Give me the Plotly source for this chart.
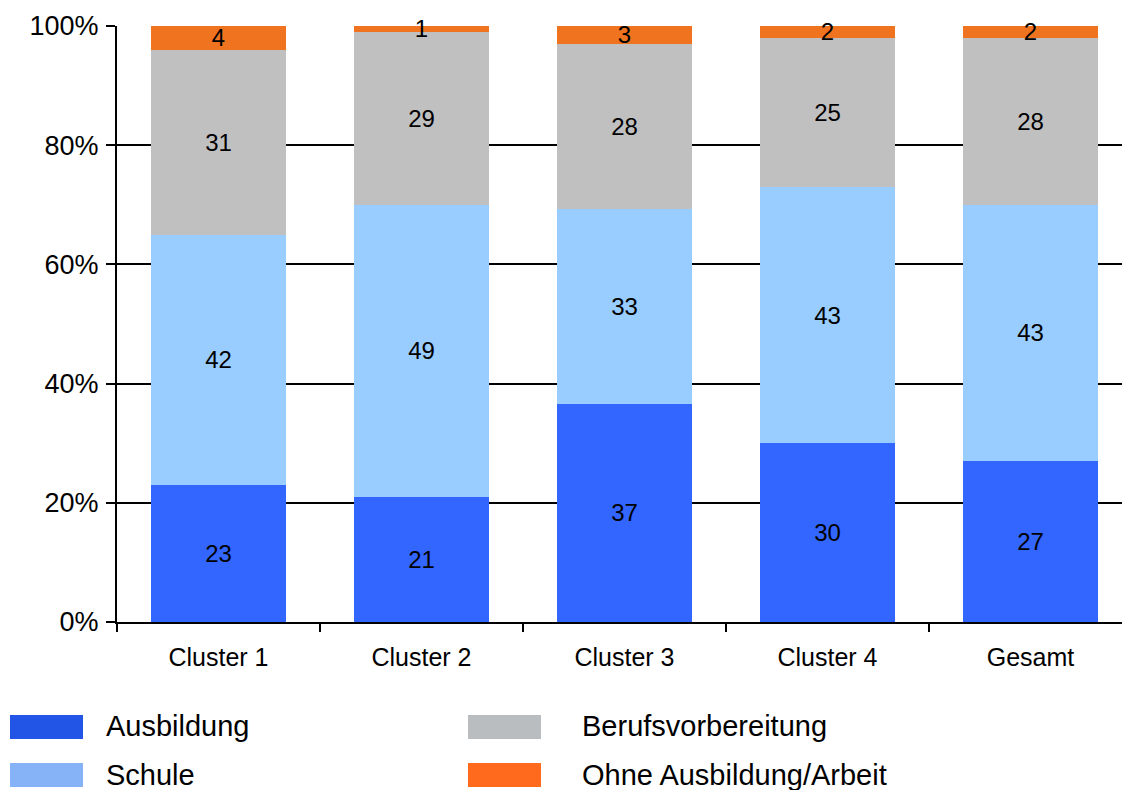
import plotly.graph_objects as go

categories = ["Cluster 1", "Cluster 2", "Cluster 3", "Cluster 4", "Gesamt"]
series_names = ["Ausbildung", "Schule", "Berufsvorbereitung", "Ohne Ausbildung/Arbeit"]
ausbildung = [23, 21, 37, 30, 27]
schule = [42, 49, 33, 43, 43]
berufsvorbereitung = [31, 29, 28, 25, 28]
ohne = [4, 1, 3, 2, 2]
y_ticks = [0, 20, 40, 60, 80, 100]
y_ticklabels = ["0%", "20%", "40%", "60%", "80%", "100%"]

series_values = [ausbildung, schule, berufsvorbereitung, ohne]
bar_colors = ["#3366FF", "#99CCFF", "#C0C0C0", "#F07320"]
legend_colors = ["#2254E6", "#86B2F7", "#B9BDC0", "#FF6A1C"]

FONT = "Liberation Sans, Arial, sans-serif"
W, H = 1132, 790
L, R, T, B = 117, 0, 26, 168

fig = go.Figure()
x_idx = list(range(len(categories)))
for name, vals, col in zip(series_names, series_values, bar_colors):
    fig.add_trace(go.Bar(
        x=x_idx, y=vals, name=name, marker=dict(color=col, line=dict(width=0)),
        width=0.665, text=[str(v) for v in vals], textposition="inside",
        insidetextanchor="middle", textangle=0,
        textfont=dict(color="black", size=24, family=FONT),
        cliponaxis=False, showlegend=False, hoverinfo="skip",
    ))

fig.update_layout(
    width=W, height=H, barmode="stack", barnorm="percent",
    margin=dict(l=L, r=R, t=T, b=B, pad=0),
    plot_bgcolor="white", paper_bgcolor="white",
    font=dict(family=FONT, size=24, color="black"),
    uniformtext=dict(minsize=24, mode="show"),
    xaxis=dict(
        range=[-0.5, 4.5], tickmode="array", tickvals=x_idx, ticktext=categories,
        ticks="", showgrid=False, zeroline=False, showline=True, linecolor="black",
        linewidth=2, tickfont=dict(size=25, family=FONT), ticklabelstandoff=12,
        minor=dict(tickmode="array", tickvals=[i - 0.5 for i in range(len(categories) + 1)],
                   ticks="outside", ticklen=8, tickcolor="black", tickwidth=2, showgrid=False),
    ),
    yaxis=dict(
        range=[0, 100], tickmode="array", tickvals=y_ticks, ticktext=y_ticklabels,
        ticks="outside", ticklen=9, tickwidth=2, tickcolor="black",
        showgrid=True, gridcolor="black", gridwidth=2, zeroline=False,
        showline=True, linecolor="black", linewidth=2,
        tickfont=dict(size=27, family=FONT), ticklabelstandoff=2,
    ),
)

pw, ph = W - L - R, H - T - B
def px_x(px):
    return (px - L) / pw
def px_y(py):
    return (H - B - py) / ph

legend_pos = [(10, 107, 715, 739, 726), (10, 107, 763, 787, 775),
              (468, 583, 715, 739, 726), (468, 583, 763, 787, 775)]
for name, col, (sx, tx, y0, y1, yc) in zip(series_names, legend_colors, legend_pos):
    fig.add_shape(type="rect", xref="paper", yref="paper",
                  x0=px_x(sx), x1=px_x(sx + 73), y0=px_y(y1), y1=px_y(y0),
                  fillcolor=col, line=dict(width=0))
    fig.add_annotation(xref="paper", yref="paper", x=px_x(tx), y=px_y(yc), xshift=-3,
                       text=name, showarrow=False, xanchor="left", yanchor="middle",
                       font=dict(size=29, family=FONT, color="black"))

fig.write_html("out.html", config={"displayModeBar": False, "staticPlot": True},
               post_script="document.body.style.margin='0';document.body.style.overflow='hidden';")
